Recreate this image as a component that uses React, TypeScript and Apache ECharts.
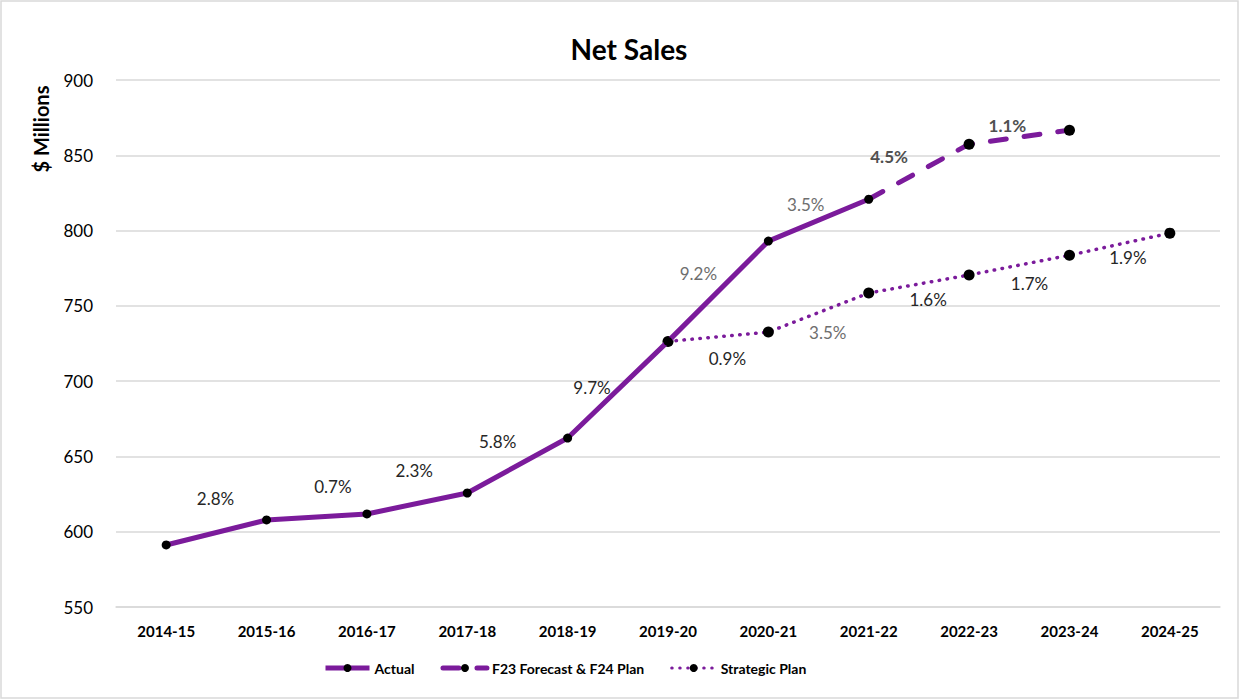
import React, { useEffect, useRef } from "react";
import * as echarts from "echarts";

const categories = ["2014-15", "2015-16", "2016-17", "2017-18", "2018-19", "2019-20", "2020-21", "2021-22", "2022-23", "2023-24", "2024-25"];
const actual = [591.2, 607.8, 611.8, 625.7, 662.2, 726.4, 793.0, 820.8, null, null, null];
const forecast = [null, null, null, null, null, null, null, 820.8, 857.4, 866.7, null];
const strategic = [null, null, null, null, null, 726.4, 732.6, 758.5, 770.5, 783.6, 798.3];
const actualGrowth = ["", "2.8%", "0.7%", "2.3%", "5.8%", "9.7%", "9.2%", "3.5%", "", "", ""];
const forecastGrowth = ["", "", "", "", "", "", "", "", "4.5%", "1.1%", ""];
const strategicGrowth = ["", "", "", "", "", "", "0.9%", "3.5%", "1.6%", "1.7%", "1.9%"];
const yMin = 550;
const yMax = 900;
const yStep = 50;

// label placement (pixels, relative to the point)
const actualOffsets: number[][] = [[0, 0], [-51, -21], [-34, -27], [-53, -23], [-70, 3], [-76, 46], [-70, 32], [-63, 5], [0, 0], [0, 0], [0, 0]];
const forecastOffsets: number[][] = [[0, 0], [0, 0], [0, 0], [0, 0], [0, 0], [0, 0], [0, 0], [0, 0], [-80, 12], [-62, -5], [0, 0]];
const strategicOffsets: number[][] = [[0, 0], [0, 0], [0, 0], [0, 0], [0, 0], [0, 0], [-41, 26], [-41, 39], [-41, 25], [-40, 28], [-42, 24]];
const mutedIdxActual = [6, 7];
const mutedIdxStrategic = [7];

const PURPLE = "#7B1B9B";
const FONT = "Lato, 'Open Sans', sans-serif";

function buildData(values: (number | null)[], labels: string[], offsets: number[][], muted: number[], bold: boolean, hideFirstSymbol: boolean) {
  let first = true;
  return values.map((v, i) => {
    if (v === null) return null;
    const txt = labels[i];
    const item: any = {
      value: v,
      label: {
        show: txt !== "",
        formatter: txt,
        position: "inside",
        offset: offsets[i],
        color: bold ? "#505050" : muted.includes(i) ? "#6e6e6e" : "#262626",
        fontWeight: bold ? "bold" : "normal",
        fontSize: 17,
        fontFamily: FONT,
        align: "center",
        verticalAlign: "middle",
      },
    };
    if (first && hideFirstSymbol) item.symbol = "none";
    first = false;
    return item;
  });
}

export default function App() {
  const ref = useRef<HTMLDivElement>(null);
  useEffect(() => {
    if (!ref.current) return;
    const chart = echarts.init(ref.current, null, { renderer: "svg" });
    chart.setOption({
      animation: false,
      backgroundColor: "#ffffff",
      textStyle: { fontFamily: FONT },
      title: {
        text: "Net Sales",
        left: 624,
        textAlign: "center",
        top: 30,
        textStyle: { fontSize: 28, fontWeight: "bold", color: "#000", fontFamily: FONT },
      },
      graphic: [
        {
          type: "rect",
          shape: { x: 1, y: 1, width: 1237, height: 697 },
          style: { fill: "none", stroke: "#d9d9d9", lineWidth: 1.5 },
          silent: true,
        },
        {
          type: "text",
          x: 41,
          y: 129,
          rotation: Math.PI / 2,
          style: {
            text: "$ Millions",
            fontSize: 20,
            fontWeight: "bold",
            fontFamily: FONT,
            fill: "#000",
            textAlign: "center",
            textVerticalAlign: "middle",
          },
        },
      ],
      legend: {
        bottom: 20,
        left: 318,
        itemWidth: 44,
        itemHeight: 10,
        itemGap: 26,
        textStyle: { fontSize: 14, fontWeight: "bold", color: "#000", fontFamily: FONT },
        data: [
          { name: "Actual", lineStyle: { width: 5 } },
          { name: "F23 Forecast & F24 Plan", lineStyle: { width: 5 } },
          { name: "Strategic Plan", lineStyle: { width: 3 } },
        ],
      },
      grid: { left: 116, right: 20, top: 80, bottom: 93 },
      xAxis: {
        type: "category",
        data: categories,
        boundaryGap: true,
        axisLine: { show: true, lineStyle: { color: "#d9d9d9", width: 1.5 } },
        axisTick: { show: false },
        axisLabel: { margin: 16, fontSize: 15, fontWeight: "bold", color: "#000", fontFamily: FONT },
      },
      yAxis: {
        type: "value",
        min: yMin,
        max: yMax,
        interval: yStep,
        axisLine: { show: false },
        axisTick: { show: false },
        axisLabel: { margin: 23, fontSize: 17, color: "#000", fontFamily: FONT },
        splitLine: { lineStyle: { color: "#d9d9d9", width: 1.5 } },
      },
      series: [
        {
          name: "Strategic Plan",
          type: "line",
          data: buildData(strategic, strategicGrowth, strategicOffsets, mutedIdxStrategic, false, false),
          symbol: "circle",
          symbolSize: 11,
          itemStyle: { color: "#000" },
          lineStyle: { color: PURPLE, width: 3.5, type: [0.5, 7.5], cap: "round" },
          z: 2,
        },
        {
          name: "F23 Forecast & F24 Plan",
          type: "line",
          data: buildData(forecast, forecastGrowth, forecastOffsets, [], true, true),
          symbol: "circle",
          symbolSize: 11,
          itemStyle: { color: "#000" },
          lineStyle: { color: PURPLE, width: 5, type: [16, 18], cap: "round" },
          z: 3,
        },
        {
          name: "Actual",
          type: "line",
          data: buildData(actual, actualGrowth, actualOffsets, mutedIdxActual, false, false),
          symbol: "circle",
          symbolSize: 9,
          itemStyle: { color: "#000" },
          lineStyle: { color: PURPLE, width: 5 },
          z: 4,
        },
      ],
    });
    return () => chart.dispose();
  }, []);
  return <div ref={ref} style={{ position: "fixed", left: 0, top: 0, width: 1240, height: 700 }} />;
}
